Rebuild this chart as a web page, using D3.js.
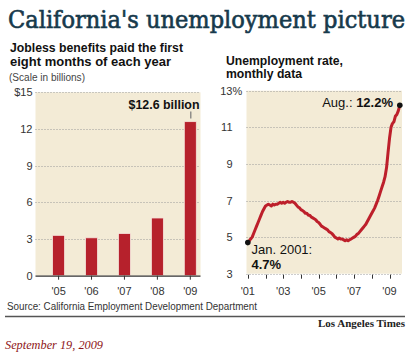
<!DOCTYPE html>
<html><head><meta charset="utf-8">
<script src="https://cdn.jsdelivr.net/npm/d3@7"></script>
<style>
html,body{margin:0;padding:0;background:#fff;}
svg{display:block;}
</style></head>
<body>
<svg id="c" width="413" height="356"></svg>
<script>
// ---- Data ----
const benefitYears = ["'05","'06","'07","'08","'09"];
const benefitValues = [3.3, 3.1, 3.45, 4.72, 12.6];   // billions of dollars
const benefitTicks = [0, 3, 6, 9, 12, 15];
const benefitTickLabels = ["0","3","6","9","12","$15"];

const rateStart = [2001, 0];  // Jan 2001, monthly series
const unemploymentRate = [
  4.7, 4.8, 4.9, 5.0, 5.2, 5.4, 5.6, 5.8, 6.0, 6.2, 6.4, 6.55,   // 2001
  6.7, 6.75, 6.8, 6.75, 6.7, 6.8, 6.75, 6.8, 6.8, 6.85, 6.9, 6.85, // 2002
  6.9, 6.85, 6.9, 6.95, 6.9, 6.9, 6.95, 6.9, 6.85, 6.75, 6.65, 6.6, // 2003
  6.5, 6.45, 6.4, 6.3, 6.3, 6.2, 6.2, 6.1, 6.05, 6.0, 5.95, 5.85, // 2004
  5.8, 5.7, 5.6, 5.55, 5.5, 5.45, 5.4, 5.3, 5.25, 5.2, 5.1, 5.0,  // 2005
  4.95, 4.9, 4.95, 4.9, 4.9, 4.85, 4.8, 4.85, 4.8, 4.85, 4.9, 4.95, // 2006
  5.0, 5.05, 5.15, 5.2, 5.3, 5.4, 5.5, 5.6, 5.7, 5.85, 6.0, 6.15, // 2007
  6.3, 6.45, 6.6, 6.8, 7.0, 7.25, 7.5, 7.75, 8.0, 8.3, 8.8, 9.6,  // 2008
  10.4, 11.0, 11.2, 11.3, 11.6, 11.7, 11.9, 12.2                  // 2009
];
const rateTicks = [3, 5, 7, 9, 11, 13];
const rateTickLabels = ["3","5","7","9","11","13"];
const rateYearTicks = [2001,2002,2003,2004,2005,2006,2007,2008,2009];
const rateYearLabels = {2001:"'01",2003:"'03",2005:"'05",2007:"'07",2009:"'09"};

// ---- Styles ----
const BG = "#f3ebd6";
const RED = "#b6212c";
const LINE_RED = "#bd1f2b";
const GRID = "#9a9a9a";
const sans = "'Liberation Sans', Arial, sans-serif";
const serif = "'Liberation Serif', 'Times New Roman', serif";
const titleSerif = "'DejaVu Serif Condensed', 'DejaVu Serif', serif";

const svg = d3.select("#c");

function txt(x, y, s, o = {}) {
  const t = svg.append("text").attr("x", x).attr("y", y).text(s)
    .attr("font-family", o.family || sans)
    .attr("font-size", o.size || 11)
    .attr("font-weight", o.weight || "normal")
    .attr("font-style", o.style || "normal")
    .attr("fill", o.fill || "#222")
    .attr("text-anchor", o.anchor || "start");
  if (o.len) t.attr("textLength", o.len).attr("lengthAdjust", "spacingAndGlyphs");
  return t;
}

// ---- Titles ----
txt(8, 28, "California's unemployment picture", {family: titleSerif, size: 25, weight: "normal", fill: "#173a4c", len: 397})
  .attr("stroke", "#173a4c").attr("stroke-width", 0.6);
txt(10, 51.5, "Jobless benefits paid the first", {size: 13, weight: "bold", fill: "#111", len: 173});
txt(10, 65.5, "eight months of each year", {size: 13, weight: "bold", fill: "#111", len: 161});
txt(9, 81, "(Scale in billions)", {size: 10, fill: "#444", len: 76});
txt(226, 64.5, "Unemployment rate,", {size: 13, weight: "bold", fill: "#111", len: 117});
txt(226, 78, "monthly data", {size: 13, weight: "bold", fill: "#111", len: 76});

// ---- Left chart: bars ----
const yB = d3.scaleLinear().domain([0, 15]).range([275.7, 92.3]);
const xB = d3.scalePoint().domain(benefitYears).range([58.6, 190.3]);
const barW = 12;

svg.append("rect").attr("x", 35.5).attr("y", yB(15)).attr("width", 165)
  .attr("height", yB(0) - yB(15)).attr("fill", BG);

const gL = svg.append("g");
gL.selectAll("line.grid").data(benefitTicks.filter(d => d > 0)).join("line")
  .attr("x1", 35.5).attr("x2", 200.5)
  .attr("y1", d => Math.round(yB(d)) + 0.5).attr("y2", d => Math.round(yB(d)) + 0.5)
  .attr("stroke", GRID).attr("stroke-width", 1).attr("stroke-dasharray", "1,2");

gL.selectAll("rect.bar").data(benefitValues).join("rect")
  .attr("x", (d, i) => xB(benefitYears[i]) - barW / 2)
  .attr("y", d => yB(d)).attr("width", barW).attr("height", d => yB(0) - yB(d))
  .attr("fill", RED).attr("stroke", "#f7e4dc").attr("stroke-width", 0.8);

// baseline
gL.append("line").attr("x1", 35.5).attr("x2", 200.5).attr("y1", yB(0) + 0.5).attr("y2", yB(0) + 0.5)
  .attr("stroke", "#333").attr("stroke-width", 1.2);
// ticks below baseline
gL.selectAll("line.xt").data(benefitYears).join("line")
  .attr("x1", d => xB(d)).attr("x2", d => xB(d))
  .attr("y1", yB(0)).attr("y2", yB(0) + 4).attr("stroke", "#333").attr("stroke-width", 1);
gL.selectAll("text.xl").data(benefitYears).join("text")
  .attr("x", d => xB(d)).attr("y", 295).text(d => d)
  .attr("text-anchor", "middle").attr("font-family", sans).attr("font-size", 11).attr("fill", "#333");
gL.selectAll("text.yl").data(benefitTicks).join("text")
  .attr("x", 32.5).attr("y", d => yB(d) + 4).text((d, i) => benefitTickLabels[i])
  .attr("text-anchor", "end").attr("font-family", sans).attr("font-size", 11).attr("fill", "#333");

// annotation
const last = benefitValues.length - 1;
gL.append("line").attr("x1", xB(benefitYears[last]) + 0.5).attr("x2", xB(benefitYears[last]) + 0.5)
  .attr("y1", 111.5).attr("y2", 118.5).attr("stroke", "#777").attr("stroke-width", 1.2);
txt(199.5, 108.5, "$12.6 billion", {size: 13, weight: "bold", fill: "#111", anchor: "end", len: 71});

// ---- Right chart: line ----
const yR = d3.scaleLinear().domain([3, 13]).range([273.7, 90.7]);
const xR = d3.scaleTime().domain([new Date(2001, 0, 1), new Date(2009, 7, 1)]).range([247.8, 399.8]);

svg.append("rect").attr("x", 246.5).attr("y", yR(13)).attr("width", 155.5)
  .attr("height", yR(3) - yR(13)).attr("fill", BG);

const gR = svg.append("g");
gR.selectAll("line.grid").data(rateTicks).join("line")
  .attr("x1", 246.5).attr("x2", 402)
  .attr("y1", d => Math.round(yR(d)) + 0.5).attr("y2", d => Math.round(yR(d)) + 0.5)
  .attr("stroke", GRID).attr("stroke-width", 1).attr("stroke-dasharray", "1,2");

gR.selectAll("line.xt").data(rateYearTicks).join("line")
  .attr("x1", d => Math.round(xR(new Date(d, 0, 1))) + 0.5).attr("x2", d => Math.round(xR(new Date(d, 0, 1))) + 0.5)
  .attr("y1", yR(3) + 1).attr("y2", yR(3) + 5).attr("stroke", "#333").attr("stroke-width", 1);
gR.selectAll("text.xl").data(rateYearTicks.filter(d => rateYearLabels[d])).join("text")
  .attr("x", d => xR(new Date(d, 0, 1))).attr("y", 295).text(d => rateYearLabels[d])
  .attr("text-anchor", "middle").attr("font-family", sans).attr("font-size", 11).attr("fill", "#333");
gR.selectAll("text.yl").data(rateTicks).join("text")
  .attr("x", 232.5).attr("y", d => yR(d) + 4).text((d, i) => rateTickLabels[i])
  .attr("text-anchor", "end").attr("font-family", sans).attr("font-size", 11).attr("fill", "#333");
txt(232.5, yR(13) + 4, "%", {size: 11, fill: "#333"});

const rateData = unemploymentRate.map((v, i) => ({date: new Date(rateStart[0], rateStart[1] + i, 1), v}));
const line = d3.line().x(d => xR(d.date)).y(d => yR(d.v)).curve(d3.curveLinear);
gR.append("path").datum(rateData).attr("d", line)
  .attr("fill", "none").attr("stroke", LINE_RED).attr("stroke-width", 3)
  .attr("stroke-linejoin", "round").attr("stroke-linecap", "round");

const first = rateData[0], lastR = rateData[rateData.length - 1];
gR.append("circle").attr("cx", xR(first.date)).attr("cy", yR(first.v)).attr("r", 2.8).attr("fill", "#111");
gR.append("circle").attr("cx", xR(lastR.date)).attr("cy", yR(lastR.v)).attr("r", 2.8).attr("fill", "#111");

const aug = svg.append("text").attr("x", 393).attr("y", 106.5).attr("text-anchor", "end")
  .attr("font-family", sans).attr("font-size", 13).attr("fill", "#111");
aug.append("tspan").text("Aug.: ");
aug.append("tspan").attr("font-weight", "bold").text(lastR.v.toFixed(1) + "%");

txt(251.5, 253.5, "Jan. 2001:", {size: 13, fill: "#111"});
txt(251.5, 268.5, first.v.toFixed(1) + "%", {size: 13, weight: "bold", fill: "#111"});

// ---- Footer ----
txt(7, 309.5, "Source: California Employment Development Department", {size: 10, fill: "#333", len: 250});
svg.append("line").attr("x1", 5).attr("x2", 405).attr("y1", 316.5).attr("y2", 316.5)
  .attr("stroke", "#555").attr("stroke-width", 1.3);
txt(405, 326.5, "Los Angeles Times", {family: serif, size: 11, weight: "bold", fill: "#222", anchor: "end", len: 87});
txt(5, 349, "September 19, 2009", {family: serif, size: 12.5, style: "italic", fill: "#8e1518", len: 98});
</script>
</body></html>
